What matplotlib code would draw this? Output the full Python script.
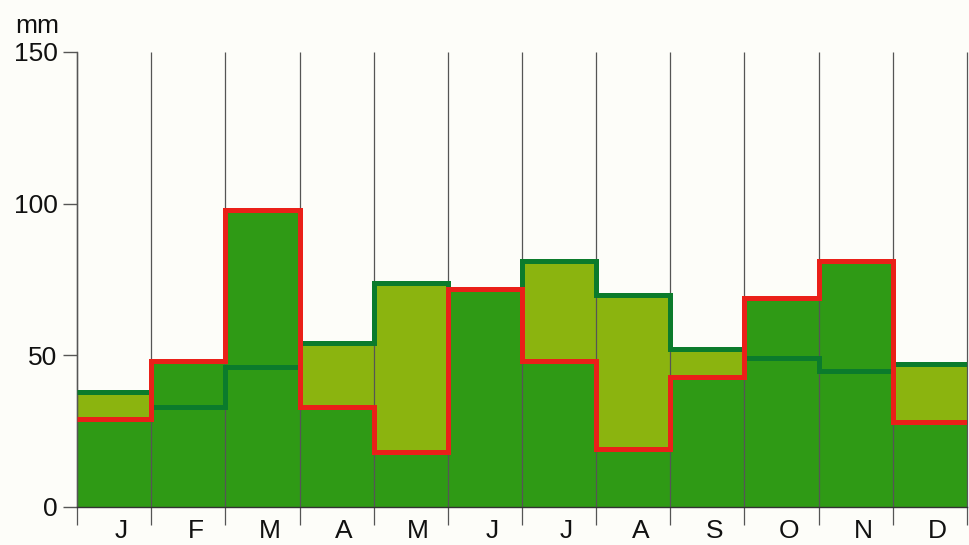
import numpy as np
import matplotlib
matplotlib.use("Agg")
import matplotlib.pyplot as plt

plt.rcParams['font.family'] = ['Liberation Sans', 'DejaVu Sans']

months = ["J", "F", "M", "A", "M", "J", "J", "A", "S", "O", "N", "D"]
green_vals = [38, 33, 46, 54, 74, 72, 81, 70, 52, 49, 45, 47]
red_vals = [29, 48, 98, 33, 18, 72, 48, 19, 43, 69, 81, 28]
y_ticks = [0, 50, 100, 150]

green = np.array(green_vals, dtype=float)
red = np.array(red_vals, dtype=float)
edges = np.arange(len(months) + 1)

BG = "#fdfdf9"
DARK = "#2f9a15"
OLIVE = "#8bb40f"
GLINE = "#0b7b2c"
RLINE = "#ea2019"
GRID = "#555555"

fig = plt.figure(figsize=(9.69, 5.45), dpi=100, facecolor=BG)
ax = fig.add_axes([77/969, 38/545, 890/969, 455/545])
ax.set_facecolor(BG)

# fills
ax.stairs(np.maximum(green, red), edges, baseline=red, fill=True,
          color=OLIVE, linewidth=0, zorder=1)
ax.stairs(red, edges, baseline=0, fill=True, color=DARK, linewidth=0, zorder=1)

# month boundary lines
ax.vlines(edges, -6, 150, colors=GRID, linewidth=0.9, zorder=2, clip_on=False)

# step lines
ax.stairs(green, edges, baseline=None, color=GLINE, linewidth=3.6, zorder=3)
ax.stairs(red, edges, baseline=None, color=RLINE, linewidth=3.6, zorder=4)

ax.set_xlim(0, 12)
ax.set_ylim(0, 150)

for s in ["top", "right"]:
    ax.spines[s].set_visible(False)
ax.spines["left"].set_color(GRID)
ax.spines["bottom"].set_color("#333333")
ax.spines["left"].set_linewidth(1.0)
ax.spines["bottom"].set_linewidth(1.0)
ax.spines["left"].set_zorder(2)
ax.spines["bottom"].set_zorder(5)

ax.set_yticks(y_ticks)
ax.set_yticklabels([str(v) for v in y_ticks], fontsize=19, color="#111111")
ax.tick_params(axis="y", length=10, width=1.0, color=GRID, pad=4, direction="out")

ax.set_xticks(edges)
ax.set_xticklabels([])
ax.tick_params(axis="x", which="major", length=0)
centers = edges[:-1] + 0.5 + 0.1
ax.set_xticks(centers, minor=True)
ax.set_xticklabels(months, minor=True, fontsize=19, color="#111111")
ax.tick_params(axis="x", which="minor", length=0, pad=9)

fig.text(15/969, 1 - 33/545, "mm", fontsize=19, color="#111111", va="baseline", ha="left")

fig.savefig("out.png", dpi=100, facecolor=BG)
